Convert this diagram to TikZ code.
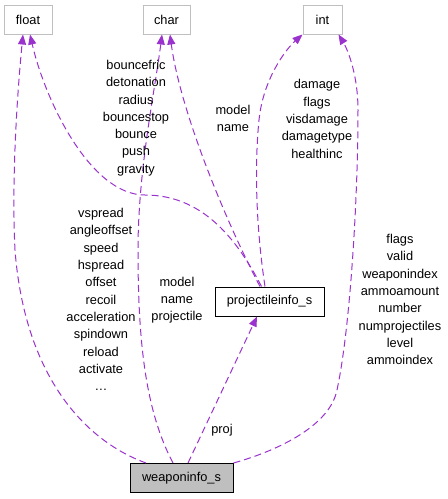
\documentclass[tikz,border=0pt]{standalone}
\usepackage{fontspec}
\setmainfont{Liberation Sans}
\usetikzlibrary{arrows.meta}
\definecolor{edgec}{HTML}{9A32CD}
\definecolor{boxgrey}{HTML}{BFBFBF}
\tikzset{
  every node/.style={font=\fontsize{12.8}{17.3}\selectfont, inner sep=0pt},
  extbox/.style={draw=boxgrey, line width=1pt, minimum height=29pt},
  classbox/.style={draw=black, line width=1pt, minimum height=29pt},
  mainbox/.style={draw=black, fill=boxgrey, line width=1pt, minimum height=29pt},
  dep/.style={draw=edgec, line width=1pt, dash pattern=on 7pt off 4pt,
    -{Triangle[length=10pt,width=8pt]}},
  lbl/.style={align=center, text=black}
}
\begin{document}
\begin{tikzpicture}[x=1pt,y=-1pt]
\useasboundingbox (0,0) rectangle (448,499);
% nodes
\node[extbox, minimum width=48pt] (float) at (28,19.5) {float};
\node[extbox, minimum width=47pt] (char) at (166.5,19.5) {char};
\node[extbox, minimum width=39pt] (int) at (322.5,19.5) {int};
\node[classbox, minimum width=109pt] (pi) at (269.5,301.5) {projectileinfo\_s};
\node[mainbox, minimum width=103pt] (wi) at (181.5,478) {weaponinfo\_s};
% edges
\draw[dep] ([xshift=-35.5pt]wi.north) .. controls (88,442) and (25,380) .. (15,250)
   .. controls (11,170) and (19,75) .. ([xshift=-5pt]float.south);
\draw[dep] ([xshift=-8pt]pi.north) .. controls (235,235) and (200,195) .. (145,195)
   .. controls (90,195) and (45,100) .. ([xshift=2pt]float.south);
\draw[dep] ([xshift=-8.5pt]wi.north) .. controls (145,410) and (138,340) .. (138,250)
   .. controls (138,170) and (155,90) .. ([xshift=-4.5pt]char.south);
\draw[dep] ([xshift=-9.5pt]pi.north) .. controls (225,220) and (180,110) .. ([xshift=3.5pt]char.south);
\draw[dep] ([xshift=-4.5pt]pi.north) .. controls (255,220) and (255,160) .. (259,120)
   .. controls (263,80) and (285,50) .. (int.south west);
\draw[dep] (wi.north east) .. controls (280,450) and (330,425) .. (337,390)
   .. controls (350,330) and (358,200) .. (358,110)
   .. controls (358,70) and (345,45) .. ([xshift=16pt]int.south);
\draw[dep] ([xshift=6.5pt]wi.north) -- ([xshift=-12.5pt]pi.south);
% labels
\node[lbl] (lpf) at (136,118) {bouncefric\\detonation\\radius\\bouncestop\\bounce\\push\\gravity};
\node[lbl] (lpc) at (233,118.5) {model\\name};
\node[lbl] (lpint) at (317,119) {damage\\flags\\visdamage\\damagetype\\healthinc};
\node[lbl] (lwf) at (101,299.5) {vspread\\angleoffset\\speed\\hspread\\offset\\recoil\\acceleration\\spindown\\reload\\activate\\\ldots};
\node[lbl] (lwc) at (177,300) {model\\name\\projectile};
\node[lbl] (lwint) at (400,299.5) {flags\\valid\\weaponindex\\ammoamount\\number\\numprojectiles\\level\\ammoindex};
\node[lbl] (lproj) at (222,430) {proj};
\end{tikzpicture}
\end{document}
